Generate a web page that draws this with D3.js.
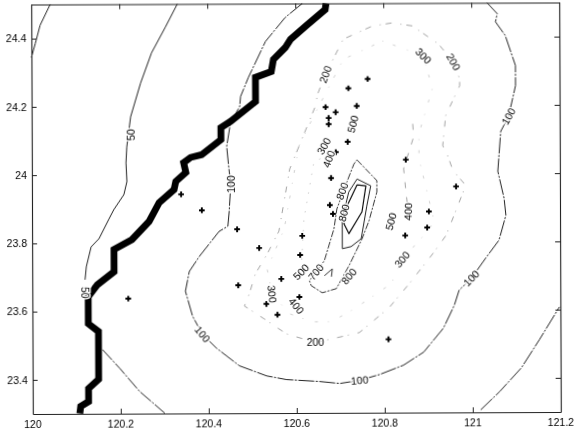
<!DOCTYPE html>
<html><head><meta charset="utf-8">
<script src="https://d3js.org/d3.v7.min.js"></script>
<style>html,body{margin:0;padding:0;background:#fff}svg{display:block}text{font-family:"Liberation Sans",Arial,sans-serif;fill:#000}</style>
</head><body><svg id="c" width="574" height="434"></svg>
<script>
const xTicks=[120,120.2,120.4,120.6,120.8,121,121.2];
const yTicks=[23.4,23.6,23.8,24,24.2,24.4];
const coast=[[120.107,23.301],[120.109,23.322],[120.127,23.336],[120.127,23.374],[120.15,23.401],[120.15,23.541],[120.127,23.564],[120.127,23.643],[120.148,23.678],[120.186,23.716],[120.186,23.781],[120.227,23.81],[120.266,23.863],[120.289,23.918],[120.323,23.956],[120.327,23.98],[120.35,24.006],[120.345,24.035],[120.361,24.05],[120.386,24.058],[120.43,24.102],[120.43,24.137],[120.452,24.155],[120.509,24.213],[120.509,24.284],[120.545,24.301],[120.55,24.336],[120.577,24.371],[120.589,24.395],[120.623,24.433],[120.668,24.482],[120.67,24.5]];
const c50corner=[[120.043,24.5],[120.02,24.439],[120.009,24.386],[120,24.345]];
const c50upper=[[120.332,24.5],[120.305,24.433],[120.273,24.357],[120.248,24.269],[120.225,24.17],[120.216,24.082],[120.214,24.035],[120.216,23.98],[120.209,23.942],[120.186,23.898],[120.175,23.871],[120.152,23.813],[120.134,23.789],[120.123,23.731],[120.12,23.693]];
const c50lower=[[120.159,23.488],[120.198,23.433],[120.243,23.365],[120.3,23.301]];
const c50right=[[121.018,23.307],[121.061,23.36],[121.111,23.43],[121.152,23.512],[121.198,23.608]];
const c100=[[120.616,24.5],[120.577,24.459],[120.532,24.389],[120.493,24.284],[120.475,24.228],[120.473,24.199],[120.452,24.152],[120.443,24.082],[120.448,24.015],[120.452,23.971],[120.448,23.889],[120.445,23.848],[120.425,23.833],[120.38,23.76],[120.357,23.716],[120.348,23.658],[120.364,23.585],[120.386,23.532],[120.418,23.491],[120.47,23.439],[120.532,23.409],[120.577,23.398],[120.652,23.392],[120.698,23.386],[120.743,23.395],[120.789,23.412],[120.843,23.439],[120.889,23.477],[120.934,23.547],[120.959,23.614],[120.97,23.658],[120.998,23.693],[121.032,23.754],[121.061,23.804],[121.077,23.877],[121.073,23.927],[121.059,24.006],[121.066,24.123],[121.084,24.167],[121.1,24.257],[121.1,24.316],[121.077,24.404],[121.055,24.444],[121.059,24.468],[121.036,24.5]];
const c200=[[120.866,24.433],[120.82,24.442],[120.775,24.433],[120.709,24.395],[120.668,24.292],[120.65,24.234],[120.645,24.199],[120.586,24.015],[120.561,23.833],[120.534,23.766],[120.507,23.708],[120.493,23.649],[120.482,23.614],[120.527,23.576],[120.577,23.532],[120.643,23.506],[120.743,23.535],[120.811,23.608],[120.857,23.678],[120.911,23.766],[120.941,23.819],[120.959,23.877],[120.986,23.965],[120.957,24.009],[120.945,24.053],[120.934,24.082],[120.941,24.17],[120.973,24.257],[120.973,24.278],[120.959,24.327],[120.925,24.38],[120.866,24.433]];
const c300=[[120.798,24.389],[120.891,24.345],[120.911,24.249],[120.88,24.117],[120.88,24.044],[120.914,23.86],[120.898,23.83],[120.841,23.749],[120.816,23.678],[120.732,23.605],[120.68,23.567],[120.636,23.567],[120.584,23.591],[120.545,23.649],[120.534,23.722],[120.573,23.839],[120.607,24.082],[120.641,24.17],[120.709,24.336],[120.798,24.389]];
const c400=[[120.866,24.146],[120.868,24.108],[120.845,24.015],[120.85,23.947],[120.855,23.889]];
const c500=[[120.675,24.058],[120.641,24.035],[120.618,23.868],[120.611,23.713]];
const c600=[[120.739,24.041],[120.784,23.98],[120.784,23.947],[120.766,23.863],[120.75,23.81],[120.72,23.731],[120.691,23.664],[120.659,23.652],[120.634,23.673],[120.63,23.687],[120.664,23.746],[120.686,23.839],[120.693,23.898],[120.716,23.977],[120.732,24.029],[120.739,24.041]];
const c700=[[120.739,23.985],[120.77,23.965],[120.761,23.906],[120.748,23.81],[120.725,23.787],[120.705,23.781],[120.705,23.839],[120.705,23.868],[120.72,23.947],[120.739,23.985]];
const c700small=[[120.664,23.702],[120.682,23.722],[120.68,23.699]];
const c800=[[120.739,23.968],[120.759,23.965],[120.75,23.889],[120.72,23.825],[120.709,23.854],[120.716,23.906],[120.739,23.968]];
const stations=[[120.764,24.278],[120.72,24.251],[120.668,24.196],[120.691,24.181],[120.675,24.164],[120.739,24.199],[120.675,24.146],[120.718,24.094],[120.691,24.064],[120.85,24.041],[120.68,23.988],[120.964,23.962],[120.677,23.909],[120.684,23.883],[120.902,23.889],[120.614,23.819],[120.609,23.763],[120.848,23.819],[120.898,23.842],[120.809,23.515],[120.607,23.64],[120.466,23.839],[120.516,23.784],[120.566,23.693],[120.468,23.675],[120.532,23.62],[120.557,23.588],[120.218,23.637],[120.386,23.895],[120.339,23.942]];
const labelText=["50","50","100","100","100","100","200","200","200","300","300","300","300","400","400","500","500","500","400","800","800","700","800"];
const labelLon=[120.225,120.12,120.452,120.386,120.743,120.998,120.668,120.959,120.643,120.891,120.664,120.841,120.545,120.675,120.855,120.73,120.816,120.611,120.6,120.705,120.709,120.645,120.72];
const labelLat=[24.117,23.655,23.971,23.532,23.395,23.693,24.292,24.327,23.506,24.345,24.082,23.749,23.649,24.044,23.889,24.146,23.86,23.713,23.614,23.95,23.886,23.713,23.7];
const labelAngle=[-90,90,-90,50,-5,-45,-70,60,0,45,-60,-50,85,-70,-88,-75,-75,-45,50,-70,-75,-50,-50];
const labelExtra=[[121.084,24.167,"100",-60]];

const L=32,R=560,T=3.5,B=413;
const x=d3.scaleLinear().domain([120,121.2]).range([L,R]);
const y=d3.scaleLinear().domain([23.3,24.5]).range([B,T]);
const svg=d3.select("#c");
const defs=svg.append("defs");
const blur=(id,s)=>defs.append("filter").attr("id",id).attr("filterUnits","userSpaceOnUse").attr("x",0).attr("y",0).attr("width",574).attr("height",434)
  .append("feGaussianBlur").attr("stdDeviation",s);
blur("scan",0.5);blur("scanText",0.3);
const root=svg.append("g").attr("transform","rotate(-0.22 296 208)");
const g=root.append("g").attr("filter","url(#scan)");
const tg=root.append("g").attr("filter","url(#scanText)");
const line=d3.line().x(d=>x(d[0])).y(d=>y(d[1]));
const contour=(d,w,col,dash)=>g.append("path").datum(d).attr("d",line).attr("fill","none")
  .attr("stroke",col).attr("stroke-width",w).attr("stroke-dasharray",dash||null).attr("stroke-linejoin","round");
contour(c50corner,1,"#222");
contour(c50upper,1,"#222");
contour(c50lower,1,"#222","14 1.5 2 1.5");
contour(c50right,1,"#222","16 1.5 2 1.5");
contour(c100,1,"#222","16 1.5 2 1.5");
contour(c200,0.9,"#999","6 5 1 9");
contour(c300,0.7,"#bbb","1 10 3 12");
contour(c400,0.9,"#999","6 9");
contour(c500,0.7,"#bbb","1.5 8");
contour(c600,1,"#333","7 1.5 2 1.5");
contour(c700,1,"#222");
contour(c700small,1,"#333");
contour(c800,1.2,"#111");
contour(coast,6.8,"#000").attr("stroke-linejoin","miter");
const ax=(a,tr,vals,fmt)=>{const s=g.append("g").attr("transform",tr).call(a.tickValues(vals).tickSizeOuter(0).tickSizeInner(-5).tickPadding(fmt?8:5).tickFormat(fmt||""));
  s.selectAll("path").attr("stroke","#222").attr("stroke-width",1.1);
  s.selectAll("line").attr("stroke","#222").attr("stroke-width",1);
  s.selectAll("text").remove();return s;};
ax(d3.axisBottom(x),`translate(0,${B})`,xTicks);
ax(d3.axisLeft(y),`translate(${L},0)`,yTicks);
ax(d3.axisTop(x),`translate(0,${T})`,xTicks);
ax(d3.axisRight(y),`translate(${R},0)`,yTicks);
const tickStyle=s=>s.style("font-size","10.5px");
tickStyle(tg.append("g").selectAll("text").data(xTicks).join("text").attr("x",d=>x(d)).attr("y",B+14.5).attr("text-anchor","middle").text(d=>d));
tickStyle(tg.append("g").selectAll("text").data(yTicks).join("text").attr("x",L-5).attr("y",d=>y(d)).attr("dy","0.35em").attr("text-anchor","end").text(d=>d));
const cross=d3.symbol().type(d3.symbolCross).size(18);
g.append("g").selectAll("path").data(stations).join("path").attr("d",cross)
  .attr("transform",d=>`translate(${x(d[0])},${y(d[1])})`).attr("fill","#000");
const rows=labelText.map((t,i)=>[labelLon[i],labelLat[i],t,labelAngle[i]]).concat(labelExtra);
const halo=g.append("g").selectAll("text").data(rows).join("text")
  .attr("transform",d=>`translate(${x(d[0])},${y(d[1])}) rotate(${d[3]})`)
  .attr("text-anchor","middle").attr("dy","0.35em").style("font-size","10.5px")
  .style("fill","#fff").attr("stroke","#fff").attr("stroke-width",2.5).text(d=>d[2]);
tg.append("g").selectAll("text").data(rows).join("text")
  .attr("transform",d=>`translate(${x(d[0])},${y(d[1])}) rotate(${d[3]})`)
  .attr("text-anchor","middle").attr("dy","0.35em").style("font-size","10.5px").text(d=>d[2]);
</script></body></html>
